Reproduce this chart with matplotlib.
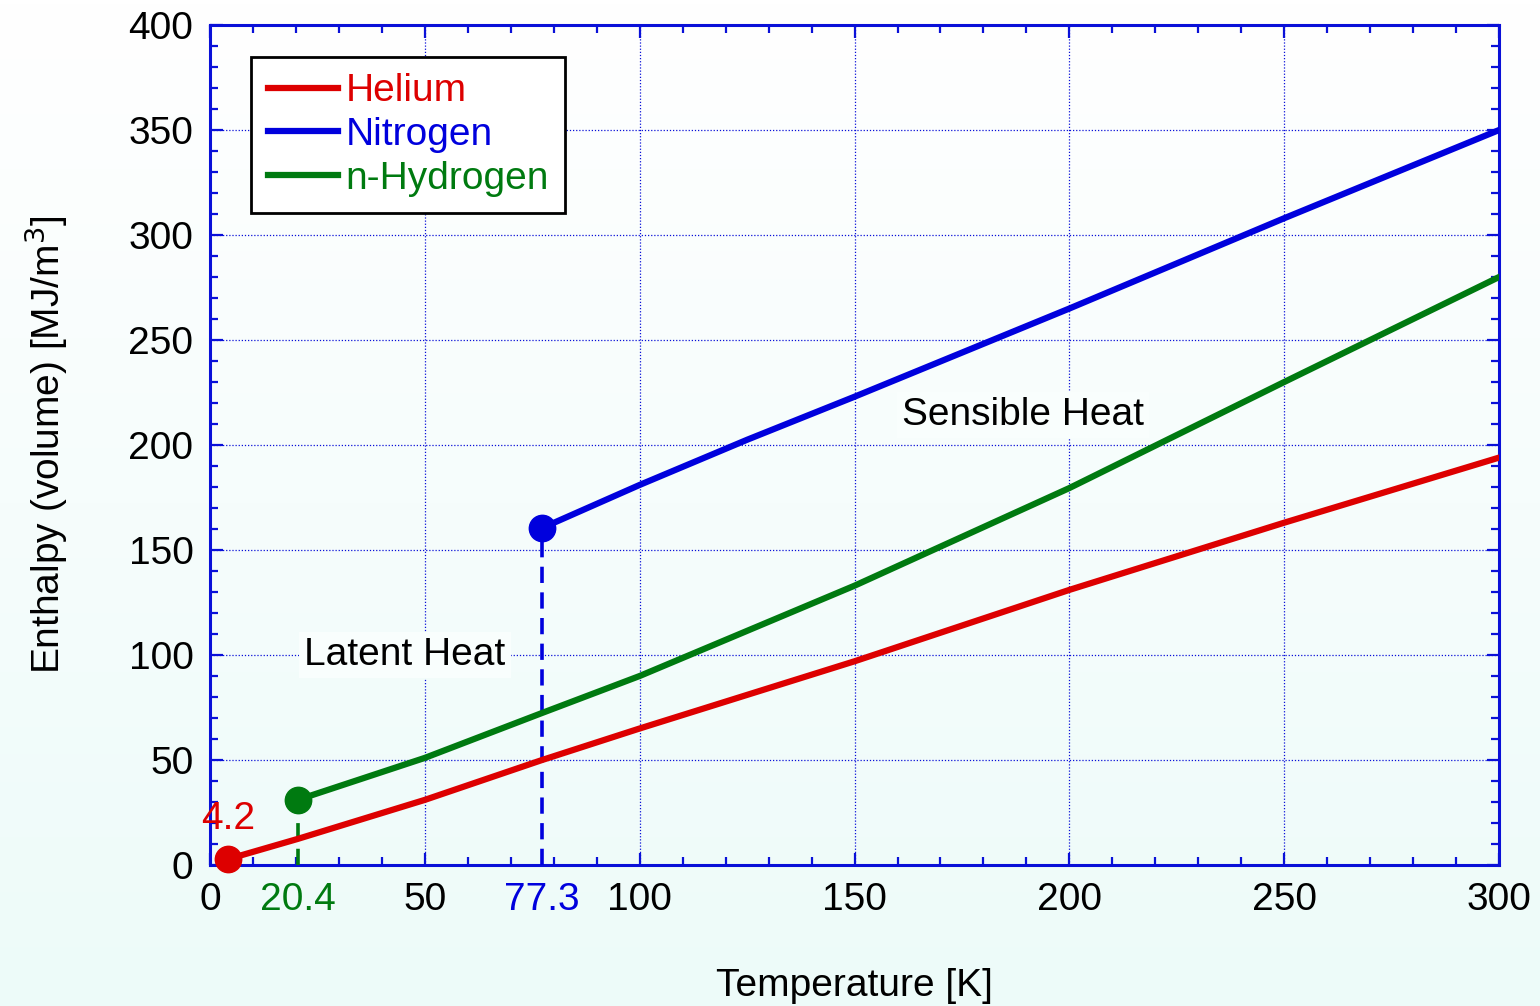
import numpy as np
import matplotlib
matplotlib.use("Agg")
import matplotlib.pyplot as plt
from matplotlib.colors import LinearSegmentedColormap

plt.rcParams['font.family'] = ['Liberation Sans', 'DejaVu Sans']

# enthalpy per volume vs temperature, starting at the boiling point
he_T = [4.2, 20.4, 50, 77.3, 100, 150, 200, 250, 300]
he_H = [2.8, 12.4, 31, 50, 65, 97, 131, 163, 194]

n2_T = [77.3, 100, 125, 150, 200, 250, 300]
n2_H = [160.5, 181, 202.5, 223, 265, 308, 350]

h2_T = [20.4, 50, 77.3, 100, 150, 200, 250, 300]
h2_H = [31, 51, 72.4, 90, 133, 179.5, 230, 280]

names = ['Helium', 'Nitrogen', 'n-Hydrogen']
x_ticks = [0, 50, 100, 150, 200, 250, 300]
y_ticks = [0, 50, 100, 150, 200, 250, 300, 350, 400]

RED = '#dd0000'
BLUE = '#0000dd'
GREEN = '#007a10'
AXC = '#0a10d8'
FS = 28

fig = plt.figure(figsize=(15.4, 10.06), dpi=100)

# soft white -> pale cyan background
bg = fig.add_axes([0, 0, 1, 1], zorder=-10)
grad = np.linspace(0, 1, 256).reshape(-1, 1)
cmap = LinearSegmentedColormap.from_list('bg', ['#ffffff', '#edfbf9'])
bg.imshow(grad, aspect='auto', cmap=cmap, extent=[0, 1, 0, 1], origin='upper')
bg.axis('off')

ax = fig.add_axes([0.1364, 0.1402, 0.837, 0.8349])
ax.set_facecolor('none')

lw = 4.5
ax.plot(he_T, he_H, color=RED, lw=lw, label=names[0], zorder=4)
ax.plot(n2_T, n2_H, color=BLUE, lw=lw, label=names[1], zorder=4)
ax.plot(h2_T, h2_H, color=GREEN, lw=lw, label=names[2], zorder=4)

# boiling points
ax.plot(he_T[0], he_H[0], 'o', color=RED, ms=19, zorder=5, clip_on=False)
ax.plot(n2_T[0], n2_H[0], 'o', color=BLUE, ms=19, zorder=5)
ax.plot(h2_T[0], h2_H[0], 'o', color=GREEN, ms=19, zorder=5)
dash = (0, (4.5, 2.6))
ax.plot([n2_T[0], n2_T[0]], [0, n2_H[0]], ls=dash, color=BLUE, lw=2.6, zorder=3)
ax.plot([h2_T[0], h2_T[0]], [0, h2_H[0]], ls=dash, color=GREEN, lw=2.6, zorder=3)

ax.set_xlim(0, 300)
ax.set_ylim(0, 400)
ax.set_xticks(x_ticks)
ax.set_yticks(y_ticks)
ax.set_xticks(np.arange(0, 301, 10), minor=True)
ax.set_yticks(np.arange(0, 401, 10), minor=True)
ax.tick_params(which='both', direction='in', top=True, right=True, color=AXC, width=1.6,
               labelsize=FS, pad=12)
ax.tick_params(which='major', length=9)
ax.tick_params(which='minor', length=5.5)
for s in ax.spines.values():
    s.set_color(AXC)
    s.set_linewidth(2.2)
ax.grid(True, which='major', color=AXC, ls=(0, (1, 1.5)), lw=0.9)

ax.set_xlabel('Temperature [K]', fontsize=FS, labelpad=36)
ax.set_ylabel('Enthalpy (volume) [MJ/m$^3$]', fontsize=FS, labelpad=42)

# boiling-point temperatures under the axis
for t, c in [(20.4, GREEN), (77.3, BLUE)]:
    ax.annotate(f'{t}', xy=(t, 0), xycoords=('data', 'axes fraction'), xytext=(0, -12),
                textcoords='offset points', ha='center', va='top', fontsize=FS, color=c)
ax.text(he_T[0], 22, '4.2', color=RED, fontsize=FS, ha='center', va='center')

box = dict(facecolor='#f9fefd', edgecolor='none', pad=4)
ax.text(189.2, 214.3, 'Sensible Heat', fontsize=FS, ha='center', va='center', bbox=box, zorder=2)
ax.text(45.4, 100, 'Latent Heat', fontsize=FS, ha='center', va='center', bbox=box, zorder=2)

leg = ax.legend(loc='upper left', bbox_to_anchor=(0.032, 0.962), borderaxespad=0,
                fontsize=FS, handlelength=1.8, handletextpad=0.2, labelspacing=0.2,
                fancybox=False, framealpha=1, edgecolor='black', borderpad=0.42)
leg.get_frame().set_linewidth(2)
for txt, c in zip(leg.get_texts(), [RED, BLUE, GREEN]):
    txt.set_color(c)

fig.savefig('out.png', dpi=100)
